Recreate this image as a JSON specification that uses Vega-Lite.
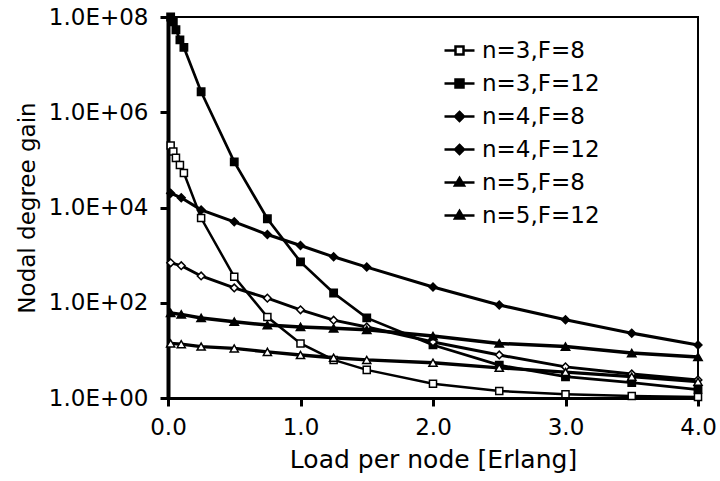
{
  "$schema": "https://vega.github.io/schema/vega-lite/v6.json",
  "width": 530,
  "height": 381,
  "autosize": "none",
  "padding": {"left": 168, "top": 17, "right": 22, "bottom": 83},
  "background": "white",
  "config": {
    "view": {"stroke": "black", "strokeWidth": 2},
    "font": "DejaVu Sans",
    "axis": {
      "domainColor": "black", "domainWidth": 3, "tickColor": "black", "tickWidth": 3, "tickSize": 8,
      "labelColor": "black", "titleColor": "black", "labelFont": "DejaVu Sans", "titleFont": "DejaVu Sans",
      "labelFontSize": 23, "titleFontSize": 23, "titleFontWeight": "normal", "grid": false
    },
    "legend": {
      "orient": "none", "legendX": 280, "legendY": 22, "title": null,
      "labelFont": "DejaVu Sans", "labelFontSize": 23, "labelColor": "black",
      "symbolSize": 100, "labelOffset": 11, "rowPadding": 9, "padding": 0, "labelLimit": 300
    }
  },
  "data": {
    "values": [
      {"s": "n=3,F=8", "x": 0.02, "y": 200000},
      {"s": "n=3,F=8", "x": 0.04, "y": 150000},
      {"s": "n=3,F=8", "x": 0.06, "y": 110000},
      {"s": "n=3,F=8", "x": 0.09, "y": 78000},
      {"s": "n=3,F=8", "x": 0.12, "y": 53000},
      {"s": "n=3,F=8", "x": 0.25, "y": 6000},
      {"s": "n=3,F=8", "x": 0.5, "y": 350},
      {"s": "n=3,F=8", "x": 0.75, "y": 50},
      {"s": "n=3,F=8", "x": 1.0, "y": 14},
      {"s": "n=3,F=8", "x": 1.25, "y": 6.3},
      {"s": "n=3,F=8", "x": 1.5, "y": 3.9},
      {"s": "n=3,F=8", "x": 2.0, "y": 2.0},
      {"s": "n=3,F=8", "x": 2.5, "y": 1.4},
      {"s": "n=3,F=8", "x": 3.0, "y": 1.2},
      {"s": "n=3,F=8", "x": 3.5, "y": 1.1},
      {"s": "n=3,F=8", "x": 4.0, "y": 1.05},

      {"s": "n=3,F=12", "x": 0.02, "y": 100000000},
      {"s": "n=3,F=12", "x": 0.04, "y": 79000000},
      {"s": "n=3,F=12", "x": 0.06, "y": 54000000},
      {"s": "n=3,F=12", "x": 0.09, "y": 33000000},
      {"s": "n=3,F=12", "x": 0.12, "y": 23000000},
      {"s": "n=3,F=12", "x": 0.25, "y": 2700000},
      {"s": "n=3,F=12", "x": 0.5, "y": 91000},
      {"s": "n=3,F=12", "x": 0.75, "y": 5800},
      {"s": "n=3,F=12", "x": 1.0, "y": 720},
      {"s": "n=3,F=12", "x": 1.25, "y": 160},
      {"s": "n=3,F=12", "x": 1.5, "y": 48},
      {"s": "n=3,F=12", "x": 2.0, "y": 13},
      {"s": "n=3,F=12", "x": 2.5, "y": 4.9},
      {"s": "n=3,F=12", "x": 3.0, "y": 2.8},
      {"s": "n=3,F=12", "x": 3.5, "y": 2.1},
      {"s": "n=3,F=12", "x": 4.0, "y": 1.5},

      {"s": "n=4,F=8", "x": 0.02, "y": 690},
      {"s": "n=4,F=8", "x": 0.1, "y": 600},
      {"s": "n=4,F=8", "x": 0.25, "y": 365},
      {"s": "n=4,F=8", "x": 0.5, "y": 205},
      {"s": "n=4,F=8", "x": 0.75, "y": 125},
      {"s": "n=4,F=8", "x": 1.0, "y": 71},
      {"s": "n=4,F=8", "x": 1.25, "y": 43},
      {"s": "n=4,F=8", "x": 1.5, "y": 31},
      {"s": "n=4,F=8", "x": 2.0, "y": 15},
      {"s": "n=4,F=8", "x": 2.5, "y": 8},
      {"s": "n=4,F=8", "x": 3.0, "y": 4.5},
      {"s": "n=4,F=8", "x": 3.5, "y": 3.2},
      {"s": "n=4,F=8", "x": 4.0, "y": 2.4},

      {"s": "n=4,F=12", "x": 0.02, "y": 20000},
      {"s": "n=4,F=12", "x": 0.1, "y": 16000},
      {"s": "n=4,F=12", "x": 0.25, "y": 8900},
      {"s": "n=4,F=12", "x": 0.5, "y": 5000},
      {"s": "n=4,F=12", "x": 0.75, "y": 2700},
      {"s": "n=4,F=12", "x": 1.0, "y": 1600},
      {"s": "n=4,F=12", "x": 1.25, "y": 920},
      {"s": "n=4,F=12", "x": 1.5, "y": 560},
      {"s": "n=4,F=12", "x": 2.0, "y": 215},
      {"s": "n=4,F=12", "x": 2.5, "y": 90},
      {"s": "n=4,F=12", "x": 3.0, "y": 44},
      {"s": "n=4,F=12", "x": 3.5, "y": 23},
      {"s": "n=4,F=12", "x": 4.0, "y": 13},

      {"s": "n=5,F=8", "x": 0.02, "y": 14},
      {"s": "n=5,F=8", "x": 0.1, "y": 13.5},
      {"s": "n=5,F=8", "x": 0.25, "y": 12},
      {"s": "n=5,F=8", "x": 0.5, "y": 11},
      {"s": "n=5,F=8", "x": 0.75, "y": 9.3},
      {"s": "n=5,F=8", "x": 1.0, "y": 8},
      {"s": "n=5,F=8", "x": 1.25, "y": 7},
      {"s": "n=5,F=8", "x": 1.5, "y": 6.3},
      {"s": "n=5,F=8", "x": 2.0, "y": 5.5},
      {"s": "n=5,F=8", "x": 2.5, "y": 4.3},
      {"s": "n=5,F=8", "x": 3.0, "y": 3.5},
      {"s": "n=5,F=8", "x": 3.5, "y": 2.8},
      {"s": "n=5,F=8", "x": 4.0, "y": 2.2},

      {"s": "n=5,F=12", "x": 0.02, "y": 61},
      {"s": "n=5,F=12", "x": 0.1, "y": 57},
      {"s": "n=5,F=12", "x": 0.25, "y": 48},
      {"s": "n=5,F=12", "x": 0.5, "y": 40},
      {"s": "n=5,F=12", "x": 0.75, "y": 34},
      {"s": "n=5,F=12", "x": 1.0, "y": 31},
      {"s": "n=5,F=12", "x": 1.25, "y": 29},
      {"s": "n=5,F=12", "x": 1.5, "y": 27},
      {"s": "n=5,F=12", "x": 2.0, "y": 20},
      {"s": "n=5,F=12", "x": 2.5, "y": 14},
      {"s": "n=5,F=12", "x": 3.0, "y": 12},
      {"s": "n=5,F=12", "x": 3.5, "y": 8.8},
      {"s": "n=5,F=12", "x": 4.0, "y": 7.3}
    ]
  },
  "encoding": {
    "x": {
      "field": "x", "type": "quantitative",
      "scale": {"domain": [0, 4], "nice": false, "zero": false},
      "axis": {"values": [0, 1, 2, 3, 4], "format": ".1f", "title": "Load per node [Erlang]", "titleFontSize": 25, "labelPadding": 10, "titlePadding": 8, "labelFlush": false}
    },
    "y": {
      "field": "y", "type": "quantitative",
      "scale": {"type": "log", "domain": [1, 100000000], "nice": false},
      "axis": {
        "values": [1, 100, 10000, 1000000, 100000000],
        "labelExpr": "'1.0E+' + format(round(log(datum.value) / LN10), '02d')",
        "title": "Nodal degree gain", "domainWidth": 4, "labelPadding": 12, "titlePadding": 9, "labelFlush": false
      }
    }
  },
  "layer": [
    {
      "mark": {"type": "line", "color": "black"},
      "encoding": {
        "detail": {"field": "s"},
        "strokeWidth": {
          "field": "s", "type": "nominal", "legend": null,
          "scale": {"domain": ["n=3,F=8", "n=3,F=12", "n=4,F=8", "n=4,F=12", "n=5,F=8", "n=5,F=12"], "range": [2.5, 3.5, 2.5, 3, 2.5, 3]}
        }
      }
    },
    {
      "mark": {"type": "point", "stroke": "black", "strokeWidth": 1.5, "opacity": 1, "fillOpacity": 1},
      "encoding": {
        "shape": {
          "field": "s", "type": "nominal", "legend": null,
          "scale": {"domain": ["n=3,F=8", "n=3,F=12", "n=4,F=8", "n=4,F=12", "n=5,F=8", "n=5,F=12"], "range": ["square", "square", "diamond", "diamond", "triangle-up", "triangle-up"]}
        },
        "fill": {
          "field": "s", "type": "nominal", "legend": null,
          "scale": {"domain": ["n=3,F=8", "n=3,F=12", "n=4,F=8", "n=4,F=12", "n=5,F=8", "n=5,F=12"], "range": ["white", "black", "white", "black", "white", "black"]}
        },
        "size": {
          "field": "s", "type": "nominal", "legend": null,
          "scale": {"domain": ["n=3,F=8", "n=3,F=12", "n=4,F=8", "n=4,F=12", "n=5,F=8", "n=5,F=12"], "range": [50, 70, 30, 64, 30, 60]}
        }
      }
    },
    {
      "mark": {"type": "point", "strokeWidth": 2.5, "opacity": 0},
      "encoding": {
        "shape": {
          "field": "s", "type": "nominal",
          "legend": {"title": null, "symbolStrokeWidth": 2.5, "symbolOpacity": 1},
          "scale": {"domain": ["n=3,F=8", "n=3,F=12", "n=4,F=8", "n=4,F=12", "n=5,F=8", "n=5,F=12"], "range": [
            "M-3,0L-0.8,0M0.8,0L3,0M-0.8,-0.8L0.8,-0.8L0.8,0.8L-0.8,0.8Z",
            "M-3,0L3,0M-0.8,-0.8L0.8,-0.8L0.8,0.8L-0.8,0.8Z",
            "M-3,0L3,0M0,-0.9L0.9,0L0,0.9L-0.9,0Z",
            "M-3,0L3,0M0,-0.9L0.9,0L0,0.9L-0.9,0Z",
            "M-3,0L3,0M0,-0.9L0.9,0.6L-0.9,0.6Z",
            "M-3,0L3,0M0,-0.9L0.9,0.6L-0.9,0.6Z"
          ]}
        },
        "fill": {
          "field": "s", "type": "nominal",
          "legend": {"title": null, "symbolStrokeWidth": 2.5, "symbolOpacity": 1},
          "scale": {"domain": ["n=3,F=8", "n=3,F=12", "n=4,F=8", "n=4,F=12", "n=5,F=8", "n=5,F=12"], "range": ["white", "black", "black", "black", "black", "black"]}
        },
        "stroke": {
          "field": "s", "type": "nominal",
          "legend": {"title": null, "symbolStrokeWidth": 2.5, "symbolOpacity": 1},
          "scale": {"domain": ["n=3,F=8", "n=3,F=12", "n=4,F=8", "n=4,F=12", "n=5,F=8", "n=5,F=12"], "range": ["black", "black", "black", "black", "black", "black"]}
        }
      }
    }
  ],
  "resolve": {"scale": {"shape": "independent", "fill": "independent", "size": "independent", "stroke": "independent"}}
}
